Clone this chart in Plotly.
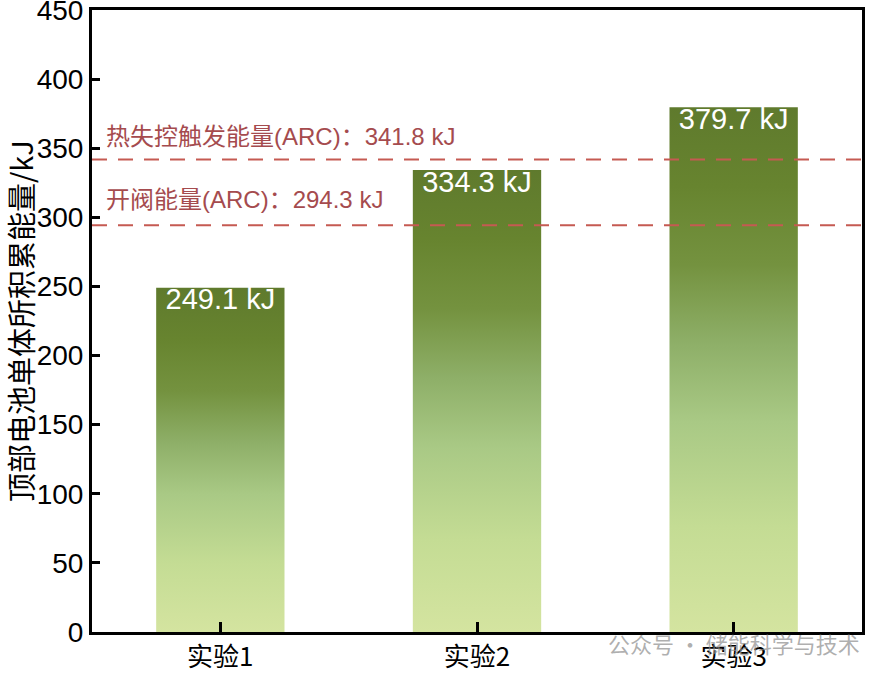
import plotly.graph_objects as go

categories = ["实验1", "实验2", "实验3"]
values = [249.1, 334.3, 379.7]
bar_labels = ["249.1 kJ", "334.3 kJ", "379.7 kJ"]
ref_values = [341.8, 294.3]
ref_labels = ["热失控触发能量(ARC)：341.8 kJ", "开阀能量(ARC)：294.3 kJ"]
y_ticks = [0, 50, 100, 150, 200, 250, 300, 350, 400, 450]
y_title = "顶部电池单体所积累能量/kJ"

FONT = "Liberation Sans, Arial, Noto Sans CJK SC"
CJK = "Noto Sans CJK SC, Liberation Sans"
BAR_W = 0.5

grad = [
    [0.0, "#d4e4a0"],
    [0.2, "#c4dc94"],
    [0.4, "#a9c985"],
    [0.55, "#8eaf68"],
    [0.7, "#74923f"],
    [0.85, "#67842f"],
    [1.0, "#5f7a2d"],
]

fig = go.Figure()
for i, v in enumerate(values):
    x0, x1 = i - BAR_W / 2, i + BAR_W / 2
    fig.add_trace(go.Scatter(
        x=[x0, x1, x1, x0, x0], y=[0, 0, v, v, 0],
        mode="lines", fill="toself", line=dict(width=0),
        fillgradient=dict(type="vertical", colorscale=grad),
        hoverinfo="skip", showlegend=False,
    ))

fig.add_trace(go.Scatter(
    x=list(range(len(values))), y=values, mode="text",
    text=bar_labels, textposition="bottom center",
    textfont=dict(family=FONT, size=29, color="white"),
    showlegend=False, hoverinfo="skip",
))

for rv, lab, ys in zip(ref_values, ref_labels, [8, 10]):
    fig.add_shape(type="line", xref="paper", x0=0, x1=1, yref="y", y0=rv, y1=rv,
                  line=dict(color="#c55a52", width=2, dash="15px,11px"), layer="above")
    fig.add_annotation(xref="paper", x=0.016, xanchor="left", yref="y", y=rv,
                       yanchor="bottom", yshift=ys, text=lab, showarrow=False,
                       font=dict(family=FONT, size=24, color="#a54b4e"))

# y-axis title
fig.add_annotation(xref="paper", x=-0.0935, xanchor="center", yref="paper", y=0.5,
                   yanchor="middle", text=y_title, textangle=-90, showarrow=False,
                   font=dict(family=CJK, size=29, color="black"))

fig.add_annotation(xref="paper", x=1.0, xanchor="right", yref="paper", y=-0.018,
                   yanchor="middle", text="公众号 · 储能科学与技术", showarrow=False,
                   font=dict(family=CJK, size=22, color="rgba(140,140,140,0.7)"))

fig.update_layout(
    width=874, height=679,
    margin=dict(l=92, r=12, t=10, b=47),
    paper_bgcolor="white", plot_bgcolor="white",
    font=dict(family=FONT, color="black"),
    xaxis=dict(
        range=[-0.5, 2.5], tickvals=list(range(len(categories))), ticktext=categories,
        ticks="inside", ticklen=10, tickwidth=3, tickcolor="black",
        showline=True, linewidth=3, linecolor="black", mirror=True,
        showgrid=False, zeroline=False, automargin=False,
        tickfont=dict(family=CJK, size=26, color="black"),
    ),
    yaxis=dict(
        range=[0, 450], tickvals=y_ticks,
        ticks="inside", ticklen=8, tickwidth=3, tickcolor="black",
        showline=True, linewidth=3, linecolor="black", mirror=True,
        showgrid=False, zeroline=False, automargin=False,
        ticklabeloverflow="allow",
        tickfont=dict(family=FONT, size=28, color="black"),
    ),
)

fig.write_html("out.html", config={"displayModeBar": False},
               post_script="document.body.style.margin='0';")
